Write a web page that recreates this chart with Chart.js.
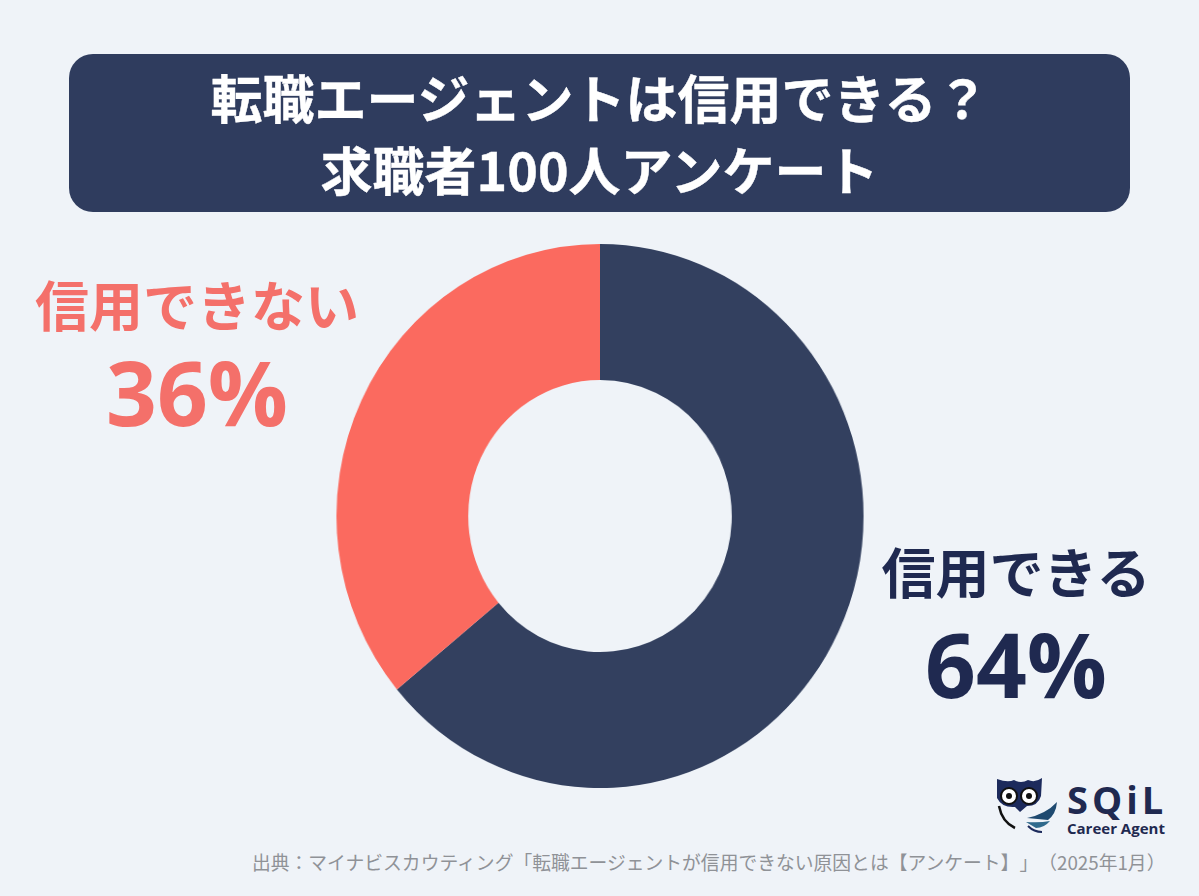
<!DOCTYPE html>
<html lang="ja">
<head>
    <meta charset="UTF-8">
    <title>転職エージェントは信用できる？</title>
    <script src="https://cdn.jsdelivr.net/npm/chart.js"></script>
    <style>
        html, body { margin: 0; padding: 0; }
        body { width: 1199px; height: 896px; background: #eff3f8; position: relative; overflow: hidden; font-family: "Noto Sans CJK JP", sans-serif; text-spacing-trim: space-all; }
        .title { position: absolute; left: 69px; top: 54px; width: 1061px; height: 158px; background: #2f3c5e; border-radius: 24px; color: #fff; font-size: 52px; font-weight: 700; line-height: 72px; text-align: center; padding-top: 7px; box-sizing: border-box; -webkit-text-stroke: 0.4px #fff; }
        .lbl { position: absolute; text-align: center; font-weight: 700; white-space: nowrap; }
        .lbl .name { font-size: 54px; line-height: 60px; display: block; }
        .lbl .pct { font-size: 89px; line-height: 100px; margin-top: 8px; display: block; font-family: "Open Sans", sans-serif; font-weight: 700; }
        .ok .pct { margin-top: 13px; }
        .ng { left: 17px; top: 274px; width: 360px; color: #f4706a; }
        .ok { left: 836px; top: 541px; width: 360px; color: #1f2950; }
        #wrap { position: absolute; left: 300px; top: 216px; width: 600px; height: 600px; transform: scaleX(0.969); transform-origin: 299.5px 50%; }
        .source { position: absolute; left: 252px; top: 848px; font-size: 18.8px; color: #8f9297; white-space: nowrap; }
        .logo { position: absolute; left: 1067px; top: 778px; color: #1f2950; font-family: "Open Sans", sans-serif; font-weight: 700; }
        .logo .a { font-size: 38px; line-height: 42px; letter-spacing: 4px; display: block; }
        .logo .b { font-size: 15px; line-height: 16px; display: block; }
        .owl { position: absolute; left: 994px; top: 776px; }
    </style>
</head>
<body>
    <div class="title">転職エージェントは信用できる？<br>求職者100人アンケート</div>
    <div id="wrap"><canvas id="donut" width="600" height="600"></canvas></div>
    <div class="lbl ng"><span class="name">信用できない</span><span class="pct">36%</span></div>
    <div class="lbl ok"><span class="name">信用できる</span><span class="pct">64%</span></div>
    <svg class="owl" width="68" height="62" viewBox="0 0 68 62">
        <path d="M3 3 Q14 7 20 4 Q27 8 34 4 Q41 7 48 2 L47 20 Q44 30 33 30 L26 36 L21 31 Q8 32 3 22 Z" fill="#1c2a5c"/>
        <circle cx="15" cy="20" r="8" fill="#fff" stroke="#111" stroke-width="2"/>
        <circle cx="35" cy="20" r="8" fill="#fff" stroke="#111" stroke-width="2"/>
        <circle cx="15" cy="20" r="3" fill="#111"/>
        <circle cx="35" cy="20" r="3" fill="#111"/>
        <path d="M5 30 Q8 46 21 52" fill="none" stroke="#111" stroke-width="2.5"/>
        <path d="M33 42 Q52 38 63 26 Q62 38 54 44 Z" fill="#1f4a70"/>
        <path d="M32 46 Q46 47 56 45 Q50 52 42 52 Z" fill="#2f6a8c"/>
        <path d="M34 50 Q40 56 48 56" fill="none" stroke="#1c2a5c" stroke-width="2"/>
    </svg>
    <div class="logo"><span class="a">SQiL</span><span class="b">Career Agent</span></div>
    <div class="source">出典：マイナビスカウティング「転職エージェントが信用できない原因とは【アンケート】」（2025年1月）</div>
    <script>
        const categories = ['信用できる', '信用できない'];
        const values = [64, 36];
        const colors = ['#33405f', '#fb6a5f'];

        new Chart(document.getElementById('donut').getContext('2d'), {
            type: 'doughnut',
            data: {
                labels: categories,
                datasets: [{ data: values, backgroundColor: colors, borderWidth: 0 }]
            },
            options: {
                responsive: false,
                animation: false,
                cutout: '50%',
                radius: 272,
                plugins: { legend: { display: false }, tooltip: { enabled: false } }
            }
        });
    </script>
</body>
</html>
